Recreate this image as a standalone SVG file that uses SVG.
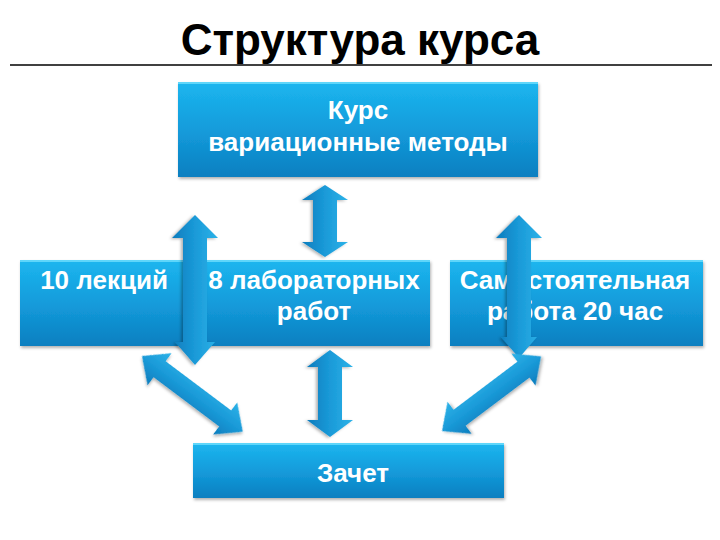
<svg xmlns="http://www.w3.org/2000/svg" width="720" height="540" viewBox="0 0 720 540">
  <defs>
    <linearGradient id="boxGrad" x1="0" y1="0" x2="0" y2="1">
      <stop offset="0" stop-color="#1cb6ef"/>
      <stop offset="0.55" stop-color="#1399d9"/>
      <stop offset="1" stop-color="#0b7fc0"/>
    </linearGradient>
    <linearGradient id="arrowGrad" x1="0" y1="0" x2="0" y2="1">
      <stop offset="0" stop-color="#2cb2e8"/>
      <stop offset="0.5" stop-color="#1a9ad8"/>
      <stop offset="1" stop-color="#0d7cbd"/>
    </linearGradient>
    <filter id="shadow" x="-10%" y="-10%" width="120%" height="130%">
      <feDropShadow dx="1" dy="2" stdDeviation="1.5" flood-color="#000" flood-opacity="0.3"/>
    </filter>
  </defs>
  <style>
    .box { fill: url(#boxGrad); filter: url(#shadow); }
    .hl { stroke: #5fd6fa; stroke-width: 2; }
    .arrow { fill: url(#arrowGrad); filter: url(#shadow); }
    .label { font-family: "Liberation Sans", Arial, sans-serif; font-weight: bold; font-size: 26px; fill: #ffffff; text-anchor: middle; }
    .title { font-family: "Liberation Sans", Arial, sans-serif; font-weight: bold; font-size: 44px; fill: #000000; text-anchor: middle; }
  </style>
  <rect width="720" height="540" fill="#ffffff"/>
  <text class="title" x="360" y="55">Структура курса</text>
  <line x1="10" y1="65" x2="712" y2="65" stroke="#000" stroke-width="1.5"/>

  <g id="node-course">
    <rect class="box" x="178" y="82" width="360" height="95"/>
    <line class="hl" x1="178" y1="83" x2="538" y2="83"/>
    <text class="label" x="358" y="119">Курс</text>
    <text class="label" x="358" y="151">вариационные методы</text>
  </g>
  <g id="node-lectures">
    <rect class="box" x="20" y="260" width="176" height="86"/>
    <line class="hl" x1="20" y1="261" x2="196" y2="261"/>
    <text class="label" x="104" y="289">10 лекций</text>
  </g>
  <g id="node-labs">
    <rect class="box" x="195" y="260" width="235" height="86"/>
    <line class="hl" x1="195" y1="261" x2="430" y2="261"/>
    <text class="label" x="314" y="289">8 лабораторных</text>
    <text class="label" x="314" y="320">работ</text>
  </g>
  <g id="node-self">
    <rect class="box" x="450" y="260" width="253" height="86"/>
    <line class="hl" x1="450" y1="261" x2="703" y2="261"/>
    <text class="label" x="575" y="289">Самостоятельная</text>
    <text class="label" x="575" y="320">работа 20 час</text>
  </g>
  <g id="node-exam">
    <rect class="box" x="193" y="443" width="311" height="55"/>
    <line class="hl" x1="193" y1="444" x2="504" y2="444"/>
    <text class="label" x="353" y="482">Зачет</text>
  </g>

  <g id="connectors">
    <!-- top center: course <-> labs -->
    <polygon class="arrow" transform="translate(325,185) rotate(90)" points="0,0 15,-23 15,-12 57,-12 57,-23 72,0 57,23 57,12 15,12 15,23"/>
    <!-- left vertical -->
    <polygon class="arrow" transform="translate(195,215) rotate(90)" points="0,0 23,-23 23,-12 127,-12 127,-20 150,0 127,20 127,12 23,12 23,23"/>
    <!-- right vertical -->
    <polygon class="arrow" transform="translate(519,215) rotate(90)" points="0,0 23,-23 23,-12 122,-12 122,-18 143,0 122,18 122,12 23,12 23,23"/>
    <!-- bottom center: labs <-> exam -->
    <polygon class="arrow" transform="translate(330,350) rotate(90)" points="0,0 17,-23 17,-12 70,-12 70,-23 87,0 70,23 70,12 17,12 17,23"/>
    <!-- left diagonal -->
    <polygon class="arrow" transform="translate(142,356) rotate(36.9)" points="0,0 22,-20 22,-10 104,-10 104,-20 126,0 104,20 104,10 22,10 22,20"/>
    <!-- right diagonal -->
    <polygon class="arrow" transform="translate(442,431) rotate(-37)" points="0,0 22,-20 22,-10 102,-10 102,-20 124,0 102,20 102,10 22,10 22,20"/>
  </g>
</svg>
